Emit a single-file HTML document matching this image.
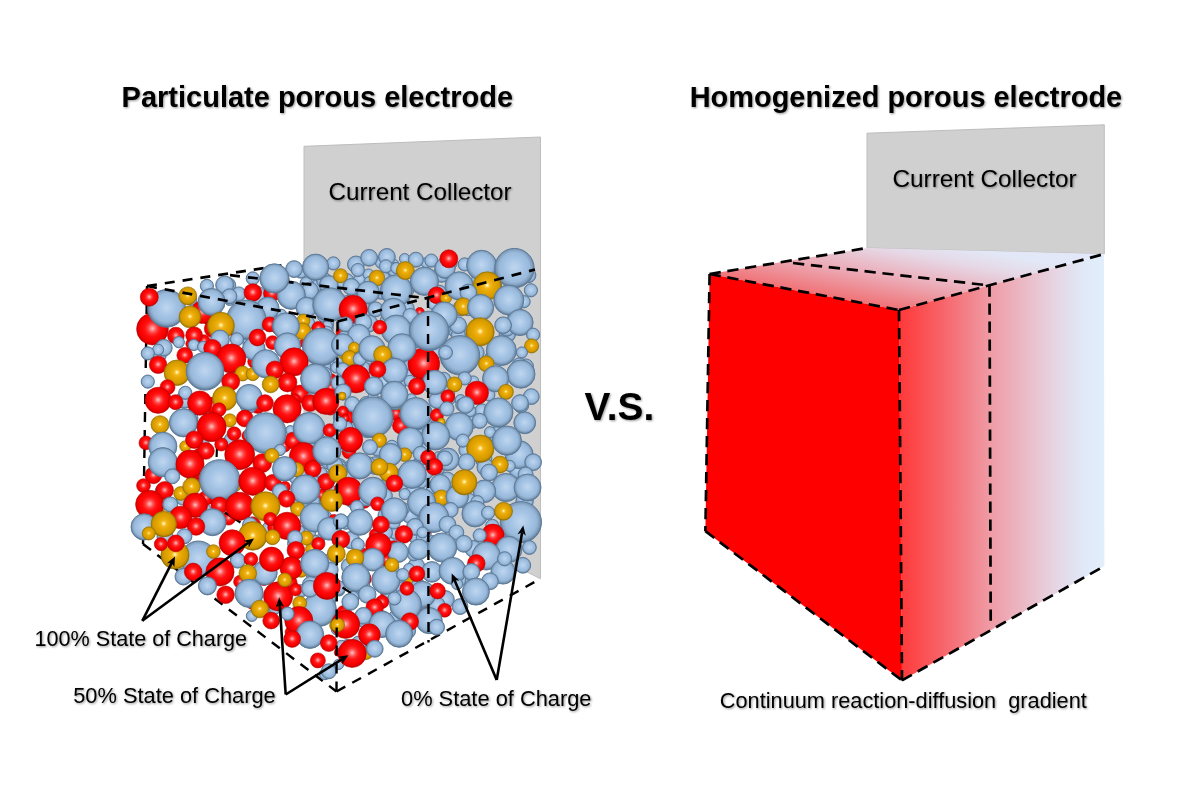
<!DOCTYPE html>
<html lang="en"><head><meta charset="utf-8">
<title>Particulate vs. Homogenized porous electrode</title>
<style>
html,body{margin:0;padding:0;background:#fff;}
body{width:1200px;height:800px;overflow:hidden;}
main,figure{margin:0;padding:0;display:block;width:1200px;height:800px;}
svg{display:block;}
text{font-family:"Liberation Sans",sans-serif;fill:#000;}
.t{font-weight:bold;font-size:28.6px;}
.c{font-size:24px;}
.l{font-size:21.4px;}
.vs{font-weight:bold;font-size:38.5px;}
.d{fill:none;stroke:#000;stroke-width:2.7;stroke-dasharray:11.3 6.7;}
.b{fill:url(#b);stroke:#5d7b9a;stroke-width:1;}
.r{fill:url(#r);stroke:#c20000;stroke-width:.6;}
.g{fill:url(#g);stroke:#9a7400;stroke-width:.7;}
.dl{fill:none;stroke:#000;stroke-width:2.15;stroke-dasharray:10 8;}
.a{fill:none;stroke:#000;stroke-width:2.6;stroke-linecap:butt;}
</style></head>
<body>
<main>
<figure>
<svg role="img" aria-label="Particulate porous electrode versus homogenized porous electrode" width="1200" height="800" viewBox="0 0 1200 800">
<defs>
<radialGradient id="b" cx="50%" cy="48%" r="50%">
<stop offset="0" stop-color="#c0d6ee"/><stop offset=".45" stop-color="#a6c5e6"/><stop offset=".76" stop-color="#99b9da"/><stop offset=".9" stop-color="#829fbe"/><stop offset=".97" stop-color="#6a88a7"/><stop offset="1" stop-color="#5c7a98"/>
</radialGradient>
<radialGradient id="r" cx="50%" cy="48%" r="50%">
<stop offset="0" stop-color="#ffc8c8"/><stop offset=".12" stop-color="#ff8a8a"/><stop offset=".3" stop-color="#ff3c3c"/><stop offset=".5" stop-color="#ff1010"/><stop offset=".8" stop-color="#f80000"/><stop offset=".93" stop-color="#e20000"/><stop offset="1" stop-color="#bc0000"/>
</radialGradient>
<radialGradient id="g" cx="50%" cy="48%" r="50%">
<stop offset="0" stop-color="#ffffff"/><stop offset=".05" stop-color="#fff2b4"/><stop offset=".11" stop-color="#ffd65c"/><stop offset=".24" stop-color="#f0b41a"/><stop offset=".5" stop-color="#e6a600"/><stop offset=".82" stop-color="#d49a00"/><stop offset=".93" stop-color="#bc8a00"/><stop offset="1" stop-color="#946c00"/>
</radialGradient>
<linearGradient id="side" gradientUnits="userSpaceOnUse" x1="899" y1="0" x2="1104" y2="0">
<stop offset="0" stop-color="#ff3838"/><stop offset=".22" stop-color="#f7666c"/><stop offset=".44" stop-color="#ef9aa4"/><stop offset=".62" stop-color="#eabcc8"/><stop offset=".77" stop-color="#e6d6e4"/><stop offset=".9" stop-color="#e0e9f8"/><stop offset="1" stop-color="#e2eefb"/>
</linearGradient>
<linearGradient id="top" gradientUnits="userSpaceOnUse" x1="804" y1="292" x2="817.8" y2="219.3">
<stop offset="0" stop-color="#f07276"/><stop offset=".44" stop-color="#ebb0bc"/><stop offset=".77" stop-color="#e6d8e6"/><stop offset="1" stop-color="#e2e8f7"/>
</linearGradient>
</defs>
<rect width="1200" height="800" fill="#fff"/>

<!-- LEFT: particulate -->
<polygon points="304,146.3 540.5,137 540.5,578.8 304,460" fill="#d0d0d0" stroke="#bdbdbd" stroke-width="1"/>
<g id="backdrop">
<circle class="r" cx="396.0" cy="413.3" r="7.2"/>
<circle class="b" cx="375.4" cy="447.0" r="6.2"/>
<circle class="b" cx="419.1" cy="359.8" r="7.3"/>
<circle class="b" cx="311.0" cy="573.7" r="5.6"/>
<circle class="b" cx="165.1" cy="536.6" r="8.1"/>
<circle class="b" cx="332.5" cy="535.0" r="5.2"/>
<circle class="b" cx="327.8" cy="328.1" r="5.5"/>
<circle class="b" cx="445.8" cy="311.9" r="6.0"/>
<circle class="b" cx="485.5" cy="291.6" r="6.8"/>
<circle class="b" cx="257.2" cy="431.2" r="6.4"/>
<circle class="b" cx="376.8" cy="367.6" r="5.0"/>
<circle class="b" cx="387.8" cy="540.0" r="5.2"/>
<circle class="b" cx="457.2" cy="421.6" r="6.6"/>
<circle class="b" cx="208.2" cy="300.3" r="6.5"/>
<circle class="b" cx="386.4" cy="319.9" r="6.0"/>
<circle class="b" cx="336.3" cy="293.8" r="5.4"/>
<circle class="r" cx="251.9" cy="603.6" r="5.6"/>
<circle class="b" cx="353.4" cy="319.1" r="7.2"/>
<circle class="b" cx="447.2" cy="480.1" r="8.1"/>
<circle class="b" cx="434.9" cy="352.6" r="7.1"/>
<circle class="b" cx="401.4" cy="591.5" r="5.3"/>
<circle class="b" cx="438.8" cy="457.3" r="5.7"/>
<circle class="b" cx="215.5" cy="311.0" r="5.6"/>
<circle class="r" cx="284.9" cy="486.8" r="5.5"/>
<circle class="b" cx="400.1" cy="477.6" r="8.7"/>
<circle class="b" cx="326.4" cy="501.3" r="8.6"/>
<circle class="b" cx="319.4" cy="334.4" r="5.0"/>
<circle class="r" cx="349.6" cy="489.6" r="8.1"/>
<circle class="b" cx="365.7" cy="361.6" r="6.1"/>
<circle class="b" cx="345.5" cy="492.2" r="8.0"/>
<circle class="b" cx="320.7" cy="513.4" r="7.0"/>
<circle class="b" cx="416.7" cy="446.6" r="7.1"/>
<circle class="g" cx="365.4" cy="651.3" r="8.4"/>
<circle class="g" cx="407.7" cy="584.9" r="8.6"/>
<circle class="b" cx="425.7" cy="533.3" r="5.6"/>
<circle class="b" cx="524.1" cy="301.7" r="6.1"/>
<circle class="b" cx="254.1" cy="312.0" r="6.7"/>
<circle class="b" cx="415.0" cy="435.4" r="5.3"/>
<circle class="b" cx="394.3" cy="592.3" r="5.3"/>
<circle class="b" cx="324.7" cy="399.4" r="7.2"/>
<circle class="r" cx="342.5" cy="332.2" r="6.4"/>
<circle class="b" cx="432.2" cy="487.8" r="5.8"/>
<circle class="b" cx="471.3" cy="421.9" r="7.0"/>
<circle class="b" cx="283.8" cy="280.7" r="5.5"/>
<circle class="b" cx="248.4" cy="326.1" r="5.3"/>
<circle class="b" cx="408.2" cy="375.6" r="6.0"/>
<circle class="b" cx="326.9" cy="323.7" r="6.8"/>
<circle class="b" cx="360.6" cy="359.9" r="8.9"/>
<circle class="r" cx="300.0" cy="394.0" r="8.9"/>
<circle class="b" cx="428.8" cy="526.2" r="5.2"/>
<circle class="b" cx="351.6" cy="468.3" r="8.3"/>
<circle class="b" cx="468.2" cy="501.6" r="8.6"/>
<circle class="b" cx="391.7" cy="519.1" r="7.7"/>
<circle class="b" cx="438.1" cy="467.7" r="7.1"/>
<circle class="b" cx="340.2" cy="417.5" r="6.9"/>
<circle class="b" cx="445.3" cy="515.3" r="7.6"/>
<circle class="r" cx="348.9" cy="451.8" r="6.9"/>
<circle class="b" cx="326.7" cy="599.9" r="8.9"/>
<circle class="r" cx="204.6" cy="476.5" r="8.8"/>
<circle class="b" cx="345.9" cy="627.8" r="7.8"/>
<circle class="b" cx="323.5" cy="383.9" r="5.6"/>
<circle class="b" cx="271.7" cy="608.4" r="5.0"/>
<circle class="b" cx="346.7" cy="337.2" r="6.5"/>
<circle class="b" cx="512.2" cy="487.0" r="7.9"/>
<circle class="g" cx="323.6" cy="571.9" r="7.6"/>
<circle class="r" cx="199.0" cy="454.9" r="6.4"/>
<circle class="b" cx="525.9" cy="366.5" r="7.6"/>
<circle class="b" cx="301.8" cy="327.8" r="5.6"/>
<circle class="b" cx="498.8" cy="465.3" r="5.9"/>
<circle class="b" cx="323.2" cy="316.2" r="5.8"/>
<circle class="r" cx="295.1" cy="399.0" r="5.2"/>
<circle class="r" cx="254.3" cy="361.6" r="6.6"/>
<circle class="b" cx="332.2" cy="502.9" r="5.0"/>
<circle class="b" cx="399.2" cy="576.9" r="6.8"/>
<circle class="b" cx="398.5" cy="384.7" r="5.5"/>
<circle class="r" cx="395.0" cy="549.3" r="5.4"/>
<circle class="b" cx="351.9" cy="501.1" r="6.6"/>
<circle class="b" cx="381.4" cy="262.4" r="6.2"/>
<circle class="b" cx="421.3" cy="386.2" r="5.1"/>
<circle class="b" cx="409.7" cy="433.1" r="6.0"/>
<circle class="b" cx="412.8" cy="340.6" r="8.2"/>
<circle class="b" cx="344.4" cy="343.6" r="8.9"/>
<circle class="b" cx="301.4" cy="632.5" r="8.5"/>
<circle class="b" cx="405.8" cy="415.9" r="6.5"/>
<circle class="r" cx="257.7" cy="404.6" r="8.8"/>
<circle class="r" cx="290.2" cy="632.0" r="5.1"/>
<circle class="b" cx="445.2" cy="275.0" r="5.1"/>
<circle class="b" cx="387.5" cy="367.3" r="7.9"/>
<circle class="b" cx="159.3" cy="355.5" r="6.9"/>
<circle class="b" cx="298.8" cy="362.7" r="6.7"/>
<circle class="b" cx="507.3" cy="334.3" r="8.2"/>
<circle class="b" cx="447.5" cy="511.2" r="6.3"/>
<circle class="r" cx="289.3" cy="584.2" r="5.3"/>
<circle class="b" cx="423.3" cy="444.4" r="5.9"/>
<circle class="b" cx="388.8" cy="539.1" r="8.0"/>
<circle class="b" cx="405.8" cy="308.5" r="8.4"/>
<circle class="b" cx="368.3" cy="413.5" r="8.0"/>
<circle class="b" cx="524.6" cy="501.2" r="8.7"/>
<circle class="b" cx="322.9" cy="366.4" r="8.1"/>
<circle class="b" cx="361.8" cy="524.5" r="5.4"/>
<circle class="b" cx="417.7" cy="428.9" r="6.1"/>
<circle class="b" cx="497.1" cy="434.7" r="8.3"/>
<circle class="b" cx="327.4" cy="325.8" r="5.1"/>
<circle class="b" cx="299.3" cy="635.1" r="7.5"/>
<circle class="b" cx="441.6" cy="273.9" r="8.4"/>
<circle class="b" cx="380.8" cy="487.4" r="7.5"/>
<circle class="b" cx="311.7" cy="501.0" r="6.7"/>
<circle class="b" cx="322.0" cy="440.8" r="5.1"/>
<circle class="b" cx="338.5" cy="356.1" r="8.1"/>
<circle class="b" cx="326.4" cy="332.9" r="6.9"/>
<circle class="b" cx="165.7" cy="523.4" r="5.3"/>
<circle class="b" cx="346.9" cy="280.6" r="7.0"/>
<circle class="b" cx="516.1" cy="314.8" r="8.4"/>
<circle class="b" cx="463.8" cy="338.8" r="8.9"/>
<circle class="r" cx="194.3" cy="479.3" r="7.5"/>
<circle class="r" cx="363.7" cy="499.9" r="8.5"/>
<circle class="b" cx="301.8" cy="590.6" r="6.1"/>
<circle class="b" cx="372.3" cy="408.2" r="8.1"/>
<circle class="r" cx="375.6" cy="534.8" r="6.3"/>
<circle class="r" cx="228.6" cy="518.2" r="6.9"/>
<circle class="b" cx="243.8" cy="320.3" r="5.4"/>
<circle class="b" cx="451.1" cy="425.6" r="6.1"/>
<circle class="b" cx="366.5" cy="404.1" r="7.6"/>
<circle class="b" cx="449.9" cy="263.1" r="7.2"/>
<circle class="b" cx="438.6" cy="547.9" r="8.4"/>
<circle class="r" cx="252.1" cy="525.7" r="8.9"/>
<circle class="b" cx="488.9" cy="395.0" r="6.0"/>
<circle class="b" cx="416.7" cy="535.4" r="8.9"/>
<circle class="b" cx="473.3" cy="548.9" r="8.4"/>
<circle class="b" cx="369.6" cy="386.3" r="5.8"/>
<circle class="r" cx="394.0" cy="548.7" r="7.9"/>
<circle class="b" cx="377.3" cy="409.5" r="8.3"/>
<circle class="b" cx="493.1" cy="285.5" r="8.5"/>
<circle class="r" cx="191.2" cy="343.8" r="5.4"/>
<circle class="b" cx="313.1" cy="266.7" r="6.0"/>
<circle class="b" cx="425.6" cy="411.5" r="6.3"/>
<circle class="r" cx="343.9" cy="613.0" r="7.5"/>
<circle class="b" cx="309.0" cy="440.0" r="8.1"/>
<circle class="b" cx="421.3" cy="482.3" r="5.9"/>
<circle class="b" cx="339.2" cy="590.3" r="5.7"/>
<circle class="b" cx="418.4" cy="586.2" r="7.5"/>
<circle class="r" cx="304.5" cy="422.5" r="8.6"/>
<circle class="b" cx="492.1" cy="268.5" r="5.8"/>
<circle class="b" cx="343.0" cy="416.2" r="8.5"/>
<circle class="b" cx="327.4" cy="479.7" r="8.0"/>
<circle class="g" cx="398.8" cy="403.3" r="6.3"/>
<circle class="b" cx="447.8" cy="499.5" r="5.5"/>
<circle class="b" cx="490.8" cy="357.2" r="5.8"/>
<circle class="b" cx="351.0" cy="325.1" r="6.3"/>
<circle class="b" cx="189.1" cy="418.2" r="8.9"/>
<circle class="r" cx="317.4" cy="339.8" r="7.6"/>
<circle class="r" cx="229.5" cy="419.9" r="5.1"/>
<circle class="b" cx="417.0" cy="466.7" r="7.5"/>
<circle class="b" cx="204.6" cy="509.7" r="6.6"/>
<circle class="b" cx="315.6" cy="497.3" r="8.0"/>
<circle class="b" cx="391.9" cy="298.8" r="6.7"/>
<circle class="b" cx="424.6" cy="520.5" r="6.0"/>
<circle class="b" cx="325.2" cy="517.2" r="6.6"/>
<circle class="b" cx="338.6" cy="664.4" r="5.2"/>
<circle class="b" cx="426.2" cy="471.6" r="7.6"/>
<circle class="b" cx="350.8" cy="429.1" r="8.8"/>
<circle class="g" cx="413.5" cy="421.7" r="8.1"/>
<circle class="g" cx="311.9" cy="549.2" r="6.4"/>
<circle class="b" cx="458.6" cy="421.4" r="5.8"/>
<circle class="b" cx="521.1" cy="405.3" r="7.6"/>
<circle class="r" cx="330.2" cy="380.7" r="7.2"/>
<circle class="r" cx="247.6" cy="435.7" r="5.7"/>
<circle class="b" cx="395.4" cy="532.9" r="6.4"/>
<circle class="b" cx="479.0" cy="281.8" r="8.3"/>
<circle class="b" cx="393.8" cy="264.2" r="5.0"/>
<circle class="g" cx="402.5" cy="362.3" r="5.4"/>
<circle class="r" cx="240.0" cy="581.7" r="6.4"/>
<circle class="b" cx="454.8" cy="328.0" r="8.6"/>
<circle class="b" cx="407.4" cy="630.8" r="8.2"/>
<circle class="b" cx="339.8" cy="282.4" r="6.9"/>
<circle class="b" cx="339.2" cy="465.7" r="7.2"/>
<circle class="b" cx="330.2" cy="492.6" r="7.7"/>
<circle class="b" cx="394.9" cy="269.9" r="7.4"/>
<circle class="b" cx="481.8" cy="410.7" r="6.9"/>
<circle class="b" cx="231.1" cy="439.5" r="6.7"/>
<circle class="b" cx="402.0" cy="588.2" r="6.3"/>
<circle class="b" cx="360.0" cy="278.7" r="6.2"/>
<circle class="b" cx="384.3" cy="532.4" r="8.2"/>
<circle class="b" cx="385.5" cy="515.2" r="7.5"/>
<circle class="b" cx="379.6" cy="542.0" r="5.9"/>
<circle class="r" cx="326.3" cy="576.0" r="5.4"/>
<circle class="b" cx="501.9" cy="531.4" r="6.5"/>
<circle class="b" cx="366.4" cy="365.6" r="6.2"/>
<circle class="b" cx="368.5" cy="274.4" r="5.5"/>
<circle class="r" cx="371.5" cy="641.1" r="6.8"/>
<circle class="b" cx="299.0" cy="504.9" r="8.8"/>
<circle class="b" cx="333.0" cy="430.0" r="5.4"/>
<circle class="b" cx="427.0" cy="359.0" r="7.9"/>
<circle class="r" cx="424.7" cy="614.7" r="7.9"/>
<circle class="b" cx="392.0" cy="553.8" r="6.8"/>
<circle class="b" cx="426.1" cy="262.8" r="5.1"/>
<circle class="b" cx="481.5" cy="460.8" r="5.2"/>
<circle class="b" cx="318.9" cy="540.3" r="5.6"/>
<circle class="b" cx="452.1" cy="494.4" r="6.2"/>
<circle class="b" cx="420.8" cy="603.0" r="6.3"/>
<circle class="b" cx="381.4" cy="386.7" r="6.7"/>
<circle class="b" cx="295.0" cy="543.6" r="7.4"/>
<circle class="b" cx="251.3" cy="434.2" r="7.3"/>
<circle class="b" cx="370.2" cy="372.2" r="8.4"/>
<circle class="b" cx="460.5" cy="580.0" r="5.9"/>
<circle class="r" cx="305.0" cy="473.7" r="5.6"/>
<circle class="r" cx="282.8" cy="474.6" r="5.1"/>
<circle class="b" cx="483.4" cy="460.8" r="7.3"/>
<circle class="b" cx="445.4" cy="599.5" r="8.9"/>
<circle class="b" cx="364.6" cy="621.1" r="6.8"/>
<circle class="b" cx="519.3" cy="365.2" r="7.3"/>
<circle class="g" cx="407.8" cy="421.9" r="6.8"/>
<circle class="b" cx="248.5" cy="404.8" r="8.6"/>
<circle class="r" cx="423.2" cy="527.7" r="8.9"/>
<circle class="b" cx="511.7" cy="540.3" r="6.2"/>
<circle class="b" cx="426.1" cy="339.4" r="5.1"/>
<circle class="b" cx="203.8" cy="444.5" r="5.4"/>
<circle class="b" cx="391.9" cy="446.6" r="6.4"/>
<circle class="r" cx="333.9" cy="520.0" r="5.6"/>
<circle class="b" cx="363.0" cy="318.3" r="8.5"/>
<circle class="b" cx="308.5" cy="322.9" r="6.1"/>
<circle class="r" cx="278.8" cy="328.0" r="7.0"/>
<circle class="b" cx="407.3" cy="346.1" r="6.9"/>
<circle class="b" cx="249.3" cy="342.1" r="6.5"/>
<circle class="b" cx="429.7" cy="380.4" r="8.9"/>
<circle class="b" cx="460.7" cy="400.2" r="5.6"/>
<circle class="b" cx="352.7" cy="335.5" r="6.7"/>
<circle class="r" cx="234.0" cy="496.2" r="5.6"/>
<circle class="r" cx="424.0" cy="340.0" r="5.3"/>
<circle class="b" cx="384.3" cy="464.6" r="6.1"/>
<circle class="b" cx="385.8" cy="553.1" r="8.2"/>
<circle class="b" cx="227.9" cy="285.4" r="7.9"/>
<circle class="b" cx="470.2" cy="411.1" r="5.7"/>
<circle class="b" cx="321.6" cy="473.0" r="5.5"/>
<circle class="b" cx="340.5" cy="472.1" r="7.1"/>
<circle class="r" cx="236.1" cy="334.1" r="5.4"/>
<circle class="b" cx="380.8" cy="498.4" r="7.1"/>
<circle class="b" cx="426.1" cy="276.8" r="5.5"/>
<circle class="b" cx="342.8" cy="374.6" r="5.5"/>
<circle class="b" cx="437.4" cy="326.5" r="8.3"/>
<circle class="b" cx="299.7" cy="433.3" r="8.4"/>
<circle class="b" cx="449.1" cy="399.2" r="6.0"/>
<circle class="b" cx="312.5" cy="521.8" r="6.5"/>
<circle class="b" cx="510.7" cy="522.0" r="8.2"/>
<circle class="b" cx="358.8" cy="643.5" r="7.5"/>
<circle class="b" cx="350.3" cy="438.8" r="8.8"/>
<circle class="b" cx="267.6" cy="528.0" r="5.5"/>
<circle class="b" cx="347.8" cy="369.9" r="6.9"/>
<circle class="b" cx="261.0" cy="359.5" r="5.4"/>
<circle class="b" cx="384.8" cy="495.8" r="7.6"/>
<circle class="b" cx="423.5" cy="450.2" r="7.2"/>
<circle class="r" cx="330.6" cy="387.5" r="6.0"/>
<circle class="r" cx="347.3" cy="417.8" r="7.3"/>
<circle class="r" cx="263.8" cy="580.0" r="5.6"/>
<circle class="b" cx="319.4" cy="283.9" r="6.6"/>
<circle class="b" cx="433.1" cy="303.6" r="5.9"/>
<circle class="b" cx="434.4" cy="322.4" r="6.3"/>
<circle class="b" cx="410.0" cy="515.0" r="8.4"/>
<circle class="b" cx="349.3" cy="566.1" r="8.0"/>
<circle class="b" cx="333.0" cy="585.3" r="7.8"/>
<circle class="b" cx="375.5" cy="465.6" r="8.9"/>
<circle class="b" cx="310.9" cy="584.8" r="8.5"/>
<circle class="b" cx="300.4" cy="489.6" r="6.5"/>
<circle class="b" cx="342.3" cy="443.2" r="5.7"/>
<circle class="r" cx="205.8" cy="498.0" r="7.3"/>
<circle class="r" cx="314.2" cy="637.7" r="5.0"/>
<circle class="b" cx="367.5" cy="465.4" r="8.7"/>
<circle class="b" cx="349.2" cy="473.7" r="7.7"/>
<circle class="b" cx="352.2" cy="299.3" r="6.5"/>
<circle class="b" cx="366.1" cy="497.4" r="8.5"/>
<circle class="b" cx="337.4" cy="441.5" r="7.5"/>
<circle class="b" cx="347.3" cy="304.1" r="8.6"/>
<circle class="b" cx="344.4" cy="336.4" r="5.7"/>
<circle class="b" cx="382.2" cy="405.3" r="9.0"/>
<circle class="b" cx="363.0" cy="368.9" r="7.6"/>
<circle class="b" cx="308.3" cy="308.7" r="5.6"/>
<circle class="b" cx="191.1" cy="299.7" r="5.7"/>
<circle class="r" cx="386.0" cy="594.4" r="5.2"/>
<circle class="b" cx="446.7" cy="392.6" r="7.9"/>
<circle class="r" cx="284.3" cy="445.6" r="6.5"/>
<circle class="r" cx="319.3" cy="516.6" r="6.0"/>
<circle class="r" cx="336.5" cy="588.6" r="6.0"/>
<circle class="r" cx="211.3" cy="405.2" r="7.9"/>
<circle class="g" cx="344.4" cy="352.8" r="6.8"/>
<circle class="b" cx="422.0" cy="366.7" r="8.6"/>
<circle class="r" cx="291.7" cy="360.7" r="7.4"/>
<circle class="r" cx="197.3" cy="471.9" r="7.2"/>
<circle class="b" cx="298.2" cy="532.2" r="7.3"/>
<circle class="b" cx="300.1" cy="293.9" r="5.7"/>
<circle class="b" cx="342.6" cy="381.8" r="5.3"/>
<circle class="b" cx="425.9" cy="364.2" r="6.7"/>
<circle class="b" cx="471.2" cy="581.8" r="6.1"/>
<circle class="b" cx="383.8" cy="277.7" r="6.0"/>
<circle class="b" cx="417.5" cy="422.1" r="8.0"/>
<circle class="b" cx="258.2" cy="295.5" r="8.8"/>
<circle class="b" cx="416.3" cy="566.0" r="8.3"/>
<circle class="b" cx="324.3" cy="280.6" r="7.8"/>
<circle class="b" cx="347.1" cy="645.0" r="5.5"/>
<circle class="b" cx="460.2" cy="366.9" r="7.2"/>
<circle class="b" cx="359.4" cy="362.1" r="5.2"/>
<circle class="r" cx="308.5" cy="342.0" r="6.2"/>
<circle class="b" cx="422.2" cy="537.5" r="6.0"/>
<circle class="b" cx="348.4" cy="443.6" r="8.7"/>
<circle class="b" cx="442.8" cy="328.6" r="7.7"/>
<circle class="r" cx="327.6" cy="577.5" r="8.3"/>
<circle class="r" cx="330.4" cy="409.4" r="5.7"/>
<circle class="b" cx="438.9" cy="293.0" r="7.9"/>
<circle class="b" cx="367.0" cy="303.4" r="7.0"/>
<circle class="g" cx="401.3" cy="362.8" r="6.0"/>
<circle class="b" cx="473.2" cy="381.6" r="5.7"/>
<circle class="b" cx="506.8" cy="328.2" r="8.1"/>
<circle class="b" cx="362.2" cy="412.0" r="8.3"/>
<circle class="b" cx="340.3" cy="466.3" r="5.6"/>
<circle class="b" cx="373.7" cy="291.5" r="7.8"/>
<circle class="r" cx="319.2" cy="337.6" r="7.9"/>
<circle class="b" cx="312.2" cy="399.2" r="6.8"/>
<circle class="b" cx="225.2" cy="293.5" r="6.3"/>
<circle class="b" cx="388.6" cy="596.2" r="5.2"/>
<circle class="b" cx="384.5" cy="381.9" r="7.3"/>
<circle class="b" cx="335.1" cy="527.9" r="6.2"/>
<circle class="r" cx="354.0" cy="493.5" r="6.6"/>
<circle class="b" cx="361.0" cy="304.8" r="8.4"/>
<circle class="r" cx="180.9" cy="428.1" r="5.3"/>
<circle class="r" cx="362.0" cy="556.0" r="8.0"/>
<circle class="b" cx="300.9" cy="329.4" r="8.8"/>
<circle class="b" cx="448.4" cy="315.0" r="8.1"/>
<circle class="b" cx="437.0" cy="400.4" r="8.1"/>
<circle class="b" cx="467.9" cy="309.2" r="6.5"/>
<circle class="b" cx="427.9" cy="276.1" r="7.4"/>
<circle class="b" cx="361.3" cy="592.9" r="5.5"/>
<circle class="b" cx="410.0" cy="364.2" r="5.8"/>
<circle class="b" cx="458.3" cy="335.3" r="7.2"/>
<circle class="g" cx="411.6" cy="421.7" r="6.9"/>
<circle class="b" cx="373.0" cy="397.2" r="5.1"/>
<circle class="b" cx="163.1" cy="491.8" r="8.1"/>
<circle class="b" cx="393.7" cy="522.6" r="6.5"/>
<circle class="b" cx="511.4" cy="542.1" r="6.2"/>
<circle class="b" cx="345.9" cy="522.9" r="6.4"/>
<circle class="b" cx="306.3" cy="283.2" r="6.3"/>
<circle class="r" cx="321.5" cy="495.2" r="6.2"/>
<circle class="r" cx="218.8" cy="500.1" r="8.9"/>
<circle class="b" cx="314.9" cy="620.1" r="5.3"/>
<circle class="b" cx="382.1" cy="618.3" r="7.6"/>
<circle class="b" cx="381.4" cy="291.1" r="8.2"/>
<circle class="b" cx="281.3" cy="315.0" r="5.8"/>
<circle class="b" cx="411.4" cy="398.9" r="5.2"/>
<circle class="r" cx="386.4" cy="560.0" r="6.3"/>
<circle class="r" cx="210.1" cy="317.5" r="8.1"/>
<circle class="b" cx="312.9" cy="482.6" r="7.4"/>
<circle class="b" cx="403.1" cy="508.9" r="6.3"/>
<circle class="b" cx="324.5" cy="374.0" r="7.1"/>
<circle class="b" cx="333.2" cy="531.3" r="8.1"/>
<circle class="b" cx="441.3" cy="295.5" r="5.1"/>
<circle class="r" cx="173.2" cy="467.3" r="7.2"/>
<circle class="b" cx="290.8" cy="320.3" r="5.7"/>
<circle class="b" cx="449.6" cy="359.2" r="8.9"/>
<circle class="b" cx="394.9" cy="401.5" r="8.2"/>
<circle class="b" cx="367.2" cy="428.9" r="8.7"/>
<circle class="b" cx="391.4" cy="351.4" r="6.0"/>
<circle class="b" cx="317.0" cy="354.5" r="5.8"/>
<circle class="b" cx="397.4" cy="382.5" r="9.0"/>
<circle class="b" cx="369.3" cy="323.4" r="8.5"/>
<circle class="b" cx="336.9" cy="629.5" r="5.6"/>
<circle class="b" cx="380.1" cy="446.9" r="7.3"/>
<circle class="r" cx="288.7" cy="583.2" r="8.5"/>
<circle class="r" cx="159.4" cy="304.5" r="8.9"/>
<circle class="b" cx="184.7" cy="399.6" r="8.7"/>
<circle class="b" cx="527.2" cy="271.7" r="5.9"/>
<circle class="b" cx="413.9" cy="319.7" r="8.0"/>
<circle class="b" cx="345.9" cy="428.2" r="7.2"/>
<circle class="b" cx="401.4" cy="484.8" r="7.2"/>
<circle class="b" cx="426.3" cy="424.5" r="6.3"/>
<circle class="r" cx="274.9" cy="527.5" r="7.2"/>
<circle class="b" cx="392.4" cy="568.0" r="6.5"/>
<circle class="b" cx="301.5" cy="477.5" r="7.5"/>
<circle class="b" cx="332.2" cy="558.9" r="7.1"/>
<circle class="b" cx="353.1" cy="597.2" r="6.0"/>
<circle class="b" cx="466.4" cy="449.9" r="7.6"/>
<circle class="b" cx="484.1" cy="276.0" r="6.5"/>
<circle class="b" cx="323.0" cy="457.5" r="8.2"/>
<circle class="b" cx="369.7" cy="282.1" r="5.7"/>
<circle class="b" cx="394.9" cy="616.2" r="5.8"/>
<circle class="b" cx="462.2" cy="404.9" r="6.5"/>
<circle class="b" cx="424.1" cy="413.3" r="7.7"/>
<circle class="b" cx="296.1" cy="477.3" r="7.0"/>
<circle class="g" cx="159.9" cy="505.2" r="6.9"/>
<circle class="b" cx="309.7" cy="455.5" r="8.6"/>
<circle class="b" cx="339.1" cy="471.4" r="8.3"/>
<circle class="b" cx="435.1" cy="425.5" r="5.2"/>
<circle class="r" cx="363.2" cy="578.8" r="8.1"/>
<circle class="b" cx="440.0" cy="493.4" r="5.2"/>
<circle class="b" cx="423.8" cy="459.3" r="5.2"/>
<circle class="b" cx="310.9" cy="501.5" r="9.0"/>
<circle class="b" cx="328.7" cy="461.9" r="7.3"/>
<circle class="b" cx="255.3" cy="590.0" r="6.2"/>
<circle class="b" cx="378.0" cy="447.6" r="8.7"/>
<circle class="b" cx="482.1" cy="288.0" r="7.4"/>
<circle class="b" cx="366.0" cy="591.9" r="7.0"/>
<circle class="b" cx="409.9" cy="381.0" r="5.8"/>
<circle class="b" cx="229.7" cy="300.1" r="5.4"/>
<circle class="b" cx="309.7" cy="532.8" r="6.0"/>
<circle class="b" cx="414.1" cy="322.6" r="5.2"/>
<circle class="b" cx="274.9" cy="608.8" r="5.6"/>
<circle class="b" cx="300.7" cy="271.7" r="6.5"/>
<circle class="g" cx="236.0" cy="485.6" r="5.4"/>
<circle class="b" cx="315.5" cy="541.1" r="5.5"/>
<circle class="b" cx="352.6" cy="379.2" r="6.4"/>
<circle class="b" cx="341.2" cy="645.7" r="5.4"/>
<circle class="b" cx="475.5" cy="352.7" r="8.7"/>
<circle class="b" cx="362.4" cy="586.6" r="7.4"/>
<circle class="b" cx="372.5" cy="405.1" r="6.5"/>
<circle class="r" cx="213.1" cy="328.8" r="8.8"/>
<circle class="b" cx="486.3" cy="458.3" r="5.6"/>
<circle class="r" cx="305.4" cy="342.8" r="5.5"/>
<circle class="b" cx="485.5" cy="467.2" r="8.6"/>
<circle class="b" cx="338.0" cy="587.9" r="7.3"/>
<circle class="b" cx="301.4" cy="474.1" r="6.2"/>
<circle class="b" cx="182.5" cy="499.2" r="5.9"/>
<circle class="b" cx="423.7" cy="283.9" r="6.0"/>
<circle class="b" cx="528.4" cy="275.2" r="7.5"/>
<circle class="b" cx="432.5" cy="541.1" r="5.6"/>
<circle class="r" cx="204.0" cy="340.6" r="5.9"/>
<circle class="b" cx="334.7" cy="465.4" r="8.1"/>
<circle class="b" cx="439.3" cy="523.4" r="5.8"/>
<circle class="b" cx="409.0" cy="568.9" r="5.5"/>
<circle class="b" cx="436.8" cy="605.1" r="8.2"/>
<circle class="b" cx="317.6" cy="602.1" r="8.1"/>
<circle class="b" cx="354.7" cy="652.5" r="5.5"/>
<circle class="b" cx="326.3" cy="356.7" r="7.0"/>
<circle class="b" cx="413.9" cy="554.2" r="6.6"/>
<circle class="b" cx="311.2" cy="510.2" r="6.8"/>
<circle class="b" cx="460.7" cy="308.3" r="7.7"/>
<circle class="b" cx="518.0" cy="469.3" r="9.0"/>
<circle class="r" cx="212.5" cy="477.8" r="5.0"/>
<circle class="b" cx="325.0" cy="595.5" r="6.0"/>
<circle class="b" cx="406.5" cy="289.7" r="7.5"/>
<circle class="b" cx="351.0" cy="540.1" r="8.6"/>
<circle class="b" cx="413.2" cy="490.4" r="6.8"/>
<circle class="g" cx="301.0" cy="569.7" r="7.6"/>
<circle class="b" cx="443.5" cy="379.4" r="7.2"/>
</g>
<g class="dl">
<path d="M147,286 L284,265" stroke-width="2.7"/>
<path d="M147,286 L143,544" stroke-width="2.4"/>
<path d="M143,544 L336.5,691.5" stroke-width="2.45"/>
<path d="M336.5,691.5 L541,578.5" stroke-width="2.45"/>
<path d="M217,446 L216.6,457 M225,512.5 L240.5,522.5 M342.5,587.5 L351,593" stroke-dasharray="none"/>
</g>
<g id="spheres">
<circle class="b" cx="206.9" cy="285.9" r="6.6"/>
<circle class="b" cx="224.7" cy="285.0" r="9.0"/>
<circle class="b" cx="238.8" cy="294.0" r="7.1"/>
<circle class="b" cx="229.4" cy="296.3" r="7.5"/>
<circle class="b" cx="252.8" cy="278.4" r="6.6"/>
<circle class="b" cx="333.4" cy="263.4" r="6.6"/>
<circle class="b" cx="294.1" cy="269.1" r="8.4"/>
<circle class="b" cx="315.6" cy="267.2" r="13.1"/>
<circle class="b" cx="310.0" cy="290.6" r="8.4"/>
<circle class="b" cx="328.8" cy="285.0" r="9.4"/>
<circle class="r" cx="271.9" cy="293.4" r="8.4"/>
<circle class="b" cx="291.3" cy="295.3" r="14.1"/>
<circle class="b" cx="306.3" cy="307.5" r="10.3"/>
<circle class="b" cx="329.7" cy="304.7" r="16.9"/>
<circle class="r" cx="252.8" cy="292.5" r="8.8"/>
<circle class="b" cx="267.8" cy="308.4" r="11.3"/>
<circle class="b" cx="246.3" cy="319.7" r="19.7"/>
<circle class="r" cx="152.5" cy="329.1" r="15.9"/>
<circle class="b" cx="166.6" cy="308.4" r="18.8"/>
<circle class="r" cx="202.2" cy="312.2" r="11.3"/>
<circle class="g" cx="187.8" cy="295.9" r="9.0"/>
<circle class="b" cx="211.6" cy="301.9" r="13.5"/>
<circle class="g" cx="190.0" cy="316.9" r="10.9"/>
<circle class="g" cx="220.9" cy="325.7" r="13.5"/>
<circle class="r" cx="175.9" cy="335.6" r="8.4"/>
<circle class="r" cx="194.1" cy="335.3" r="8.4"/>
<circle class="b" cx="163.8" cy="347.8" r="8.4"/>
<circle class="b" cx="158.1" cy="349.7" r="5.6"/>
<circle class="b" cx="147.8" cy="353.4" r="6.6"/>
<circle class="b" cx="193.8" cy="345.0" r="5.6"/>
<circle class="b" cx="203.1" cy="346.9" r="5.6"/>
<circle class="b" cx="178.8" cy="342.2" r="5.6"/>
<circle class="b" cx="220.0" cy="339.4" r="9.4"/>
<circle class="b" cx="236.9" cy="339.4" r="6.6"/>
<circle class="r" cx="212.5" cy="348.2" r="8.8"/>
<circle class="r" cx="184.8" cy="355.3" r="7.9"/>
<circle class="r" cx="158.1" cy="364.7" r="8.8"/>
<circle class="b" cx="253.8" cy="348.8" r="11.3"/>
<circle class="r" cx="257.5" cy="337.5" r="8.4"/>
<circle class="r" cx="231.3" cy="358.5" r="14.6"/>
<circle class="g" cx="176.9" cy="372.8" r="12.8"/>
<circle class="b" cx="205.0" cy="371.3" r="18.8"/>
<circle class="b" cx="147.8" cy="381.6" r="6.6"/>
<circle class="r" cx="167.5" cy="387.2" r="7.5"/>
<circle class="g" cx="242.5" cy="373.5" r="7.5"/>
<circle class="g" cx="252.8" cy="374.1" r="6.6"/>
<circle class="r" cx="230.7" cy="381.6" r="9.0"/>
<circle class="r" cx="269.7" cy="324.4" r="7.5"/>
<circle class="g" cx="303.4" cy="320.6" r="6.6"/>
<circle class="g" cx="302.5" cy="331.3" r="8.4"/>
<circle class="r" cx="318.4" cy="328.1" r="6.6"/>
<circle class="b" cx="286.0" cy="326.3" r="13.5"/>
<circle class="r" cx="272.5" cy="342.6" r="6.9"/>
<circle class="b" cx="287.5" cy="345.9" r="13.1"/>
<circle class="b" cx="321.3" cy="346.9" r="18.8"/>
<circle class="r" cx="294.1" cy="361.9" r="14.1"/>
<circle class="b" cx="265.9" cy="363.8" r="14.1"/>
<circle class="r" cx="274.8" cy="369.8" r="8.8"/>
<circle class="r" cx="287.5" cy="382.5" r="9.4"/>
<circle class="b" cx="315.6" cy="378.8" r="15.0"/>
<circle class="g" cx="270.6" cy="384.4" r="8.4"/>
<circle class="b" cx="336.3" cy="367.5" r="5.6"/>
<circle class="b" cx="355.9" cy="264.4" r="8.4"/>
<circle class="b" cx="357.8" cy="270.0" r="6.6"/>
<circle class="b" cx="369.1" cy="257.8" r="8.4"/>
<circle class="b" cx="386.9" cy="256.9" r="8.4"/>
<circle class="b" cx="385.9" cy="266.3" r="6.6"/>
<circle class="b" cx="404.7" cy="258.8" r="5.3"/>
<circle class="b" cx="415.9" cy="259.7" r="7.5"/>
<circle class="b" cx="431.3" cy="260.6" r="6.6"/>
<circle class="b" cx="396.3" cy="268.1" r="5.6"/>
<circle class="b" cx="445.0" cy="268.1" r="10.3"/>
<circle class="r" cx="448.8" cy="258.8" r="9.0"/>
<circle class="b" cx="464.7" cy="264.4" r="6.6"/>
<circle class="b" cx="481.6" cy="265.3" r="15.0"/>
<circle class="b" cx="514.4" cy="268.1" r="19.7"/>
<circle class="b" cx="530.9" cy="290.3" r="6.6"/>
<circle class="g" cx="340.6" cy="275.8" r="7.1"/>
<circle class="g" cx="376.9" cy="278.1" r="7.9"/>
<circle class="b" cx="351.3" cy="286.9" r="8.4"/>
<circle class="b" cx="368.1" cy="292.5" r="11.3"/>
<circle class="b" cx="396.3" cy="290.6" r="15.9"/>
<circle class="g" cx="405.3" cy="270.6" r="9.0"/>
<circle class="b" cx="424.4" cy="281.3" r="14.1"/>
<circle class="r" cx="436.6" cy="295.3" r="8.4"/>
<circle class="g" cx="445.9" cy="298.1" r="5.6"/>
<circle class="b" cx="459.1" cy="285.9" r="14.1"/>
<circle class="g" cx="487.2" cy="285.9" r="14.1"/>
<circle class="b" cx="468.4" cy="292.5" r="8.4"/>
<circle class="g" cx="463.2" cy="306.6" r="8.8"/>
<circle class="b" cx="480.6" cy="307.5" r="13.1"/>
<circle class="b" cx="508.8" cy="300.0" r="15.0"/>
<circle class="b" cx="520.0" cy="322.5" r="13.1"/>
<circle class="b" cx="503.1" cy="325.3" r="8.4"/>
<circle class="b" cx="533.1" cy="334.7" r="6.6"/>
<circle class="g" cx="531.6" cy="345.9" r="7.1"/>
<circle class="b" cx="521.9" cy="352.5" r="5.6"/>
<circle class="b" cx="501.3" cy="350.6" r="15.0"/>
<circle class="g" cx="480.1" cy="331.9" r="14.1"/>
<circle class="b" cx="458.1" cy="325.3" r="8.4"/>
<circle class="b" cx="444.1" cy="315.0" r="13.1"/>
<circle class="r" cx="419.7" cy="312.2" r="4.7"/>
<circle class="b" cx="375.6" cy="309.4" r="7.5"/>
<circle class="b" cx="393.4" cy="311.3" r="13.1"/>
<circle class="b" cx="410.3" cy="315.9" r="7.5"/>
<circle class="r" cx="353.1" cy="309.4" r="14.1"/>
<circle class="b" cx="345.6" cy="324.4" r="7.5"/>
<circle class="b" cx="363.4" cy="322.5" r="8.4"/>
<circle class="b" cx="396.3" cy="330.0" r="15.0"/>
<circle class="r" cx="379.8" cy="327.2" r="6.9"/>
<circle class="r" cx="423.8" cy="363.8" r="15.9"/>
<circle class="b" cx="429.1" cy="330.9" r="19.7"/>
<circle class="b" cx="358.8" cy="335.6" r="11.3"/>
<circle class="b" cx="342.8" cy="345.0" r="11.3"/>
<circle class="g" cx="354.1" cy="347.8" r="5.6"/>
<circle class="g" cx="349.4" cy="358.1" r="7.5"/>
<circle class="b" cx="359.7" cy="359.1" r="6.6"/>
<circle class="b" cx="401.9" cy="347.8" r="14.1"/>
<circle class="b" cx="371.9" cy="348.8" r="13.1"/>
<circle class="g" cx="382.6" cy="354.8" r="9.0"/>
<circle class="b" cx="460.0" cy="355.3" r="19.7"/>
<circle class="b" cx="445.6" cy="352.5" r="6.9"/>
<circle class="g" cx="486.3" cy="363.8" r="7.9"/>
<circle class="b" cx="520.9" cy="374.1" r="14.1"/>
<circle class="b" cx="495.6" cy="378.8" r="13.1"/>
<circle class="b" cx="464.7" cy="378.4" r="6.6"/>
<circle class="g" cx="454.4" cy="384.4" r="7.5"/>
<circle class="b" cx="434.7" cy="382.5" r="12.2"/>
<circle class="r" cx="416.9" cy="386.3" r="8.4"/>
<circle class="b" cx="342.8" cy="369.4" r="6.6"/>
<circle class="r" cx="355.9" cy="378.8" r="14.1"/>
<circle class="b" cx="394.4" cy="371.3" r="13.1"/>
<circle class="r" cx="377.5" cy="369.4" r="8.4"/>
<circle class="b" cx="373.8" cy="386.3" r="9.4"/>
<circle class="b" cx="185.3" cy="392.8" r="6.6"/>
<circle class="r" cx="158.1" cy="400.3" r="13.1"/>
<circle class="r" cx="175.6" cy="402.2" r="7.5"/>
<circle class="g" cx="224.7" cy="398.4" r="12.2"/>
<circle class="r" cx="199.8" cy="403.1" r="12.2"/>
<circle class="b" cx="249.1" cy="397.5" r="13.1"/>
<circle class="r" cx="265.0" cy="403.1" r="8.4"/>
<circle class="r" cx="287.1" cy="408.8" r="14.1"/>
<circle class="r" cx="310.0" cy="403.1" r="8.4"/>
<circle class="r" cx="325.9" cy="401.3" r="13.1"/>
<circle class="g" cx="160.0" cy="424.7" r="9.0"/>
<circle class="b" cx="183.4" cy="422.8" r="14.1"/>
<circle class="r" cx="219.1" cy="409.7" r="6.9"/>
<circle class="g" cx="229.9" cy="420.4" r="6.6"/>
<circle class="r" cx="211.6" cy="427.1" r="14.6"/>
<circle class="r" cx="244.8" cy="418.5" r="8.4"/>
<circle class="r" cx="234.1" cy="433.7" r="6.9"/>
<circle class="b" cx="290.3" cy="430.3" r="4.7"/>
<circle class="r" cx="293.1" cy="440.6" r="8.4"/>
<circle class="b" cx="265.9" cy="433.1" r="20.3"/>
<circle class="b" cx="309.1" cy="428.4" r="15.9"/>
<circle class="r" cx="329.7" cy="430.3" r="6.6"/>
<circle class="r" cx="145.9" cy="442.9" r="6.9"/>
<circle class="b" cx="162.8" cy="446.3" r="14.1"/>
<circle class="r" cx="153.4" cy="475.3" r="8.4"/>
<circle class="b" cx="162.8" cy="462.2" r="14.6"/>
<circle class="g" cx="185.3" cy="446.3" r="5.6"/>
<circle class="r" cx="194.3" cy="439.7" r="8.8"/>
<circle class="r" cx="205.9" cy="450.9" r="8.4"/>
<circle class="r" cx="221.3" cy="444.4" r="6.6"/>
<circle class="b" cx="280.0" cy="450.0" r="5.6"/>
<circle class="r" cx="262.2" cy="463.1" r="9.4"/>
<circle class="r" cx="239.7" cy="454.7" r="15.0"/>
<circle class="g" cx="271.9" cy="455.6" r="7.1"/>
<circle class="r" cx="303.4" cy="456.6" r="14.1"/>
<circle class="r" cx="190.0" cy="464.1" r="14.1"/>
<circle class="b" cx="172.2" cy="476.3" r="7.5"/>
<circle class="r" cx="143.5" cy="485.6" r="6.9"/>
<circle class="b" cx="219.6" cy="480.0" r="20.3"/>
<circle class="r" cx="252.8" cy="481.3" r="14.1"/>
<circle class="r" cx="272.9" cy="482.8" r="8.4"/>
<circle class="g" cx="296.9" cy="469.7" r="7.1"/>
<circle class="r" cx="312.8" cy="468.8" r="8.4"/>
<circle class="b" cx="284.7" cy="468.8" r="12.2"/>
<circle class="r" cx="325.9" cy="481.9" r="8.4"/>
<circle class="g" cx="337.8" cy="473.4" r="9.0"/>
<circle class="b" cx="280.0" cy="491.3" r="7.5"/>
<circle class="b" cx="305.3" cy="489.4" r="14.6"/>
<circle class="r" cx="164.7" cy="490.3" r="8.8"/>
<circle class="g" cx="180.6" cy="493.5" r="6.9"/>
<circle class="g" cx="191.5" cy="486.6" r="8.8"/>
<circle class="r" cx="149.7" cy="504.4" r="14.1"/>
<circle class="b" cx="170.3" cy="504.4" r="7.5"/>
<circle class="r" cx="195.3" cy="505.3" r="12.2"/>
<circle class="r" cx="219.4" cy="505.3" r="8.4"/>
<circle class="r" cx="239.7" cy="506.3" r="14.1"/>
<circle class="r" cx="286.6" cy="498.8" r="8.4"/>
<circle class="g" cx="265.4" cy="506.3" r="14.6"/>
<circle class="g" cx="297.8" cy="509.1" r="7.1"/>
<circle class="b" cx="314.7" cy="517.5" r="14.6"/>
<circle class="r" cx="270.3" cy="519.0" r="6.6"/>
<circle class="r" cx="287.1" cy="525.9" r="13.7"/>
<circle class="b" cx="144.1" cy="526.9" r="13.1"/>
<circle class="r" cx="180.6" cy="517.5" r="11.3"/>
<circle class="g" cx="163.8" cy="524.1" r="12.8"/>
<circle class="b" cx="212.5" cy="522.2" r="13.5"/>
<circle class="r" cx="196.0" cy="526.5" r="8.8"/>
<circle class="g" cx="148.8" cy="533.4" r="6.6"/>
<circle class="b" cx="250.0" cy="525.0" r="7.5"/>
<circle class="g" cx="252.8" cy="535.9" r="14.3"/>
<circle class="b" cx="184.4" cy="536.3" r="7.5"/>
<circle class="g" cx="272.5" cy="537.2" r="7.5"/>
<circle class="g" cx="306.3" cy="538.1" r="7.1"/>
<circle class="b" cx="328.8" cy="528.8" r="11.3"/>
<circle class="b" cx="295.0" cy="538.1" r="7.5"/>
<circle class="b" cx="337.9" cy="383.1" r="6.9"/>
<circle class="b" cx="343.0" cy="392.1" r="8.1"/>
<circle class="g" cx="342.1" cy="396.0" r="3.9"/>
<circle class="b" cx="352.2" cy="404.1" r="7.5"/>
<circle class="r" cx="342.8" cy="411.6" r="5.6"/>
<circle class="r" cx="345.6" cy="418.1" r="3.8"/>
<circle class="b" cx="394.4" cy="394.7" r="13.5"/>
<circle class="r" cx="447.8" cy="396.6" r="6.9"/>
<circle class="r" cx="476.9" cy="392.8" r="11.6"/>
<circle class="g" cx="505.9" cy="391.9" r="7.5"/>
<circle class="b" cx="531.3" cy="396.6" r="7.9"/>
<circle class="r" cx="400.9" cy="425.6" r="8.4"/>
<circle class="b" cx="372.8" cy="417.2" r="20.3"/>
<circle class="b" cx="415.9" cy="413.4" r="15.9"/>
<circle class="r" cx="436.9" cy="415.3" r="6.6"/>
<circle class="b" cx="446.9" cy="408.8" r="7.1"/>
<circle class="b" cx="465.6" cy="405.0" r="8.4"/>
<circle class="b" cx="498.4" cy="412.5" r="14.6"/>
<circle class="b" cx="520.0" cy="403.1" r="8.4"/>
<circle class="b" cx="524.7" cy="422.8" r="10.9"/>
<circle class="b" cx="479.7" cy="420.9" r="7.5"/>
<circle class="b" cx="490.0" cy="432.2" r="5.6"/>
<circle class="b" cx="459.1" cy="426.6" r="14.1"/>
<circle class="b" cx="462.8" cy="440.6" r="6.6"/>
<circle class="g" cx="441.3" cy="421.9" r="3.8"/>
<circle class="b" cx="435.6" cy="435.9" r="14.1"/>
<circle class="b" cx="410.3" cy="440.6" r="13.1"/>
<circle class="g" cx="379.4" cy="440.3" r="7.1"/>
<circle class="r" cx="350.3" cy="439.7" r="12.4"/>
<circle class="b" cx="326.9" cy="450.9" r="14.1"/>
<circle class="b" cx="340.0" cy="423.9" r="6.8"/>
<circle class="b" cx="370.0" cy="447.2" r="7.5"/>
<circle class="g" cx="404.7" cy="454.7" r="6.9"/>
<circle class="b" cx="390.6" cy="454.7" r="11.3"/>
<circle class="b" cx="420.6" cy="453.8" r="7.5"/>
<circle class="g" cx="480.3" cy="448.7" r="13.7"/>
<circle class="b" cx="519.1" cy="454.7" r="14.1"/>
<circle class="b" cx="506.9" cy="440.6" r="14.6"/>
<circle class="b" cx="533.1" cy="462.2" r="8.4"/>
<circle class="b" cx="509.7" cy="465.9" r="5.6"/>
<circle class="g" cx="499.9" cy="464.6" r="8.4"/>
<circle class="b" cx="466.6" cy="462.2" r="8.4"/>
<circle class="b" cx="447.8" cy="459.4" r="11.3"/>
<circle class="b" cx="445.0" cy="458.4" r="7.5"/>
<circle class="r" cx="428.1" cy="457.5" r="7.5"/>
<circle class="r" cx="434.3" cy="466.9" r="8.4"/>
<circle class="g" cx="388.8" cy="472.5" r="9.4"/>
<circle class="b" cx="359.7" cy="465.9" r="13.1"/>
<circle class="g" cx="379.4" cy="466.9" r="8.4"/>
<circle class="b" cx="412.2" cy="474.4" r="14.1"/>
<circle class="r" cx="394.4" cy="483.4" r="8.4"/>
<circle class="b" cx="440.3" cy="484.7" r="10.3"/>
<circle class="b" cx="489.1" cy="472.5" r="8.4"/>
<circle class="b" cx="525.6" cy="474.4" r="7.5"/>
<circle class="b" cx="505.9" cy="487.5" r="14.1"/>
<circle class="b" cx="527.5" cy="487.5" r="13.5"/>
<circle class="b" cx="484.4" cy="491.3" r="11.3"/>
<circle class="r" cx="348.4" cy="491.3" r="14.1"/>
<circle class="g" cx="331.6" cy="500.6" r="10.9"/>
<circle class="b" cx="372.8" cy="491.3" r="14.1"/>
<circle class="g" cx="441.3" cy="497.8" r="7.9"/>
<circle class="b" cx="457.2" cy="496.9" r="11.3"/>
<circle class="g" cx="464.3" cy="482.3" r="12.6"/>
<circle class="b" cx="404.7" cy="494.1" r="5.6"/>
<circle class="b" cx="421.6" cy="502.5" r="14.1"/>
<circle class="r" cx="377.5" cy="503.8" r="6.9"/>
<circle class="b" cx="477.4" cy="502.1" r="6.6"/>
<circle class="b" cx="475.0" cy="513.8" r="13.1"/>
<circle class="b" cx="488.1" cy="512.8" r="6.6"/>
<circle class="b" cx="520.9" cy="522.2" r="20.6"/>
<circle class="g" cx="503.5" cy="511.3" r="9.0"/>
<circle class="b" cx="492.3" cy="525.9" r="6.6"/>
<circle class="b" cx="394.4" cy="510.9" r="13.1"/>
<circle class="b" cx="356.9" cy="507.2" r="6.6"/>
<circle class="b" cx="359.7" cy="522.2" r="13.1"/>
<circle class="b" cx="340.9" cy="521.3" r="7.5"/>
<circle class="r" cx="380.9" cy="524.6" r="8.4"/>
<circle class="b" cx="450.6" cy="510.0" r="7.5"/>
<circle class="b" cx="433.8" cy="517.5" r="15.0"/>
<circle class="b" cx="447.4" cy="524.4" r="8.4"/>
<circle class="b" cx="415.0" cy="526.9" r="8.4"/>
<circle class="r" cx="403.8" cy="534.4" r="8.8"/>
<circle class="r" cx="340.8" cy="539.4" r="9.0"/>
<circle class="r" cx="492.8" cy="535.3" r="11.3"/>
<circle class="b" cx="479.7" cy="535.3" r="6.6"/>
<circle class="b" cx="456.3" cy="532.5" r="7.5"/>
<circle class="b" cx="422.5" cy="532.5" r="5.6"/>
<circle class="b" cx="198.4" cy="558.8" r="17.8"/>
<circle class="g" cx="175.0" cy="555.0" r="14.1"/>
<circle class="r" cx="160.9" cy="544.1" r="6.6"/>
<circle class="r" cx="175.9" cy="543.4" r="8.4"/>
<circle class="g" cx="213.4" cy="551.6" r="6.9"/>
<circle class="r" cx="232.2" cy="542.8" r="13.1"/>
<circle class="r" cx="295.9" cy="550.3" r="8.8"/>
<circle class="r" cx="318.4" cy="543.8" r="6.6"/>
<circle class="g" cx="336.3" cy="553.7" r="9.0"/>
<circle class="b" cx="183.4" cy="576.6" r="8.4"/>
<circle class="r" cx="193.2" cy="571.9" r="8.8"/>
<circle class="b" cx="237.8" cy="560.6" r="7.5"/>
<circle class="r" cx="220.0" cy="571.9" r="14.1"/>
<circle class="r" cx="250.9" cy="559.3" r="6.9"/>
<circle class="b" cx="207.4" cy="585.9" r="9.0"/>
<circle class="r" cx="225.6" cy="594.8" r="8.8"/>
<circle class="b" cx="265.0" cy="572.8" r="12.2"/>
<circle class="g" cx="247.8" cy="573.4" r="8.8"/>
<circle class="r" cx="291.3" cy="568.1" r="11.3"/>
<circle class="r" cx="271.6" cy="559.3" r="12.2"/>
<circle class="b" cx="330.6" cy="570.0" r="7.5"/>
<circle class="b" cx="314.7" cy="563.4" r="14.1"/>
<circle class="b" cx="249.1" cy="593.4" r="14.1"/>
<circle class="b" cx="319.4" cy="609.4" r="16.9"/>
<circle class="r" cx="278.1" cy="596.3" r="14.6"/>
<circle class="g" cx="284.7" cy="579.9" r="6.9"/>
<circle class="r" cx="295.6" cy="589.7" r="6.2"/>
<circle class="b" cx="310.0" cy="588.8" r="8.4"/>
<circle class="r" cx="326.9" cy="585.9" r="13.5"/>
<circle class="g" cx="299.7" cy="603.2" r="6.9"/>
<circle class="b" cx="251.9" cy="615.9" r="5.6"/>
<circle class="g" cx="259.8" cy="609.0" r="8.8"/>
<circle class="r" cx="271.2" cy="620.6" r="8.4"/>
<circle class="r" cx="298.8" cy="620.6" r="14.1"/>
<circle class="b" cx="287.5" cy="613.7" r="6.6"/>
<circle class="b" cx="310.0" cy="634.7" r="13.7"/>
<circle class="r" cx="292.2" cy="639.0" r="8.4"/>
<circle class="r" cx="328.8" cy="643.1" r="8.4"/>
<circle class="g" cx="336.3" cy="625.3" r="6.6"/>
<circle class="r" cx="317.9" cy="660.4" r="7.5"/>
<circle class="b" cx="325.0" cy="674.1" r="5.6"/>
<circle class="b" cx="328.8" cy="671.3" r="7.5"/>
<circle class="r" cx="338.1" cy="652.5" r="3.8"/>
<circle class="b" cx="357.8" cy="544.7" r="6.6"/>
<circle class="b" cx="398.1" cy="552.2" r="10.3"/>
<circle class="b" cx="418.8" cy="549.4" r="10.3"/>
<circle class="b" cx="463.8" cy="543.8" r="8.4"/>
<circle class="b" cx="529.4" cy="547.5" r="6.9"/>
<circle class="b" cx="508.8" cy="549.4" r="13.1"/>
<circle class="b" cx="486.3" cy="555.9" r="14.1"/>
<circle class="r" cx="378.4" cy="545.6" r="12.8"/>
<circle class="b" cx="442.2" cy="547.5" r="14.6"/>
<circle class="b" cx="372.8" cy="559.7" r="11.3"/>
<circle class="g" cx="355.0" cy="557.8" r="8.8"/>
<circle class="b" cx="355.9" cy="577.5" r="14.1"/>
<circle class="b" cx="385.9" cy="580.3" r="14.1"/>
<circle class="g" cx="391.9" cy="564.8" r="6.9"/>
<circle class="b" cx="402.8" cy="574.7" r="6.2"/>
<circle class="b" cx="431.9" cy="571.9" r="10.3"/>
<circle class="r" cx="416.9" cy="573.8" r="7.9"/>
<circle class="r" cx="476.3" cy="563.4" r="8.8"/>
<circle class="b" cx="452.5" cy="570.9" r="13.5"/>
<circle class="b" cx="471.3" cy="571.9" r="8.4"/>
<circle class="b" cx="503.1" cy="571.9" r="12.2"/>
<circle class="b" cx="504.6" cy="558.8" r="7.1"/>
<circle class="b" cx="522.8" cy="565.3" r="7.9"/>
<circle class="b" cx="490.0" cy="581.3" r="8.4"/>
<circle class="b" cx="457.2" cy="584.1" r="5.6"/>
<circle class="b" cx="475.9" cy="591.6" r="13.5"/>
<circle class="b" cx="422.5" cy="594.4" r="13.1"/>
<circle class="r" cx="437.5" cy="591.0" r="7.9"/>
<circle class="b" cx="367.2" cy="594.4" r="8.8"/>
<circle class="b" cx="350.3" cy="601.9" r="8.4"/>
<circle class="b" cx="405.6" cy="604.7" r="15.9"/>
<circle class="r" cx="406.9" cy="588.4" r="6.9"/>
<circle class="b" cx="394.4" cy="598.5" r="6.6"/>
<circle class="r" cx="382.2" cy="601.9" r="6.6"/>
<circle class="r" cx="374.7" cy="607.5" r="8.8"/>
<circle class="r" cx="444.6" cy="610.3" r="6.9"/>
<circle class="b" cx="460.0" cy="606.6" r="7.9"/>
<circle class="b" cx="363.4" cy="615.9" r="8.4"/>
<circle class="b" cx="429.1" cy="620.6" r="13.1"/>
<circle class="r" cx="409.8" cy="621.6" r="8.8"/>
<circle class="b" cx="436.6" cy="627.2" r="7.9"/>
<circle class="b" cx="382.2" cy="624.4" r="13.1"/>
<circle class="r" cx="345.6" cy="624.4" r="14.1"/>
<circle class="g" cx="337.6" cy="624.9" r="6.9"/>
<circle class="r" cx="369.4" cy="634.7" r="10.9"/>
<circle class="b" cx="399.1" cy="633.8" r="13.5"/>
<circle class="b" cx="374.7" cy="648.8" r="8.4"/>
<circle class="r" cx="352.2" cy="653.4" r="14.1"/>
</g>
<g class="dl">
<path d="M147,286 L337.5,321.5" stroke-width="2.7"/>
<path d="M230,275.2 L428,298.3" stroke-width="2.7"/>
<path d="M337.5,321.5 L535,269.5" stroke-width="2.7"/>
<path d="M337.5,321.5 L336.5,691.5" stroke-width="2.4"/>
<path d="M428,298 L428.5,642.5" stroke-width="2.4"/>
</g>
<g id="spheres-top">
<circle class="b" cx="274.4" cy="278.4" r="14.6"/>
<circle class="r" cx="149.3" cy="297.2" r="9.0"/>
</g>

<!-- RIGHT: homogenized -->
<polygon points="867,133.2 1104.3,124.8 1104.3,254 867,248" fill="#d0d0d0" stroke="#bdbdbd" stroke-width="1"/>
<polygon points="709.6,274 867,248 1104,254 899,310" fill="url(#top)"/>
<polygon points="899,310 1104,254 1104.4,566 902,680.4" fill="url(#side)"/>
<polygon points="709.6,274 899,310 902,680.4 705.4,531.2" fill="#ff0000"/>
<g class="d">
<path d="M709.6,274 L867,248"/>
<path d="M709.6,274 L899,310"/>
<path d="M793,263 L989.5,285.5"/>
<path d="M899,310 L1104,254"/>
<path d="M709.6,274 L705.4,531.2"/>
<path d="M705.4,531.2 L902,680.4"/>
<path d="M899,310 L902,680.4"/>
<path d="M989.5,285.5 L990.7,621"/>
<path d="M902,680.4 L1104.4,566"/>
</g>

<!-- arrows -->
<g fill="#000"><path class="a" d="M142.3,620.8 L171.7,562.9"/><polygon points="175.0,556.5 174.4,567.0 171.7,562.9 166.9,563.2"/><path class="a" d="M142.3,620.8 L248.2,542.8"/><polygon points="254.0,538.5 248.8,547.6 248.2,542.8 243.8,540.8"/><path class="a" d="M285.7,694.5 L279.7,604.7"/><polygon points="279.2,597.5 284.0,606.8 279.7,604.7 275.7,607.4"/><path class="a" d="M285.7,694.5 L342.2,659.1"/><polygon points="348.3,655.3 342.4,664.0 342.2,659.1 337.9,656.8"/><path class="a" d="M496.7,680.0 L454.5,580.1"/><polygon points="451.7,573.5 459.3,580.7 454.5,580.1 451.6,584.0"/><path class="a" d="M496.7,680.0 L522.1,532.6"/><polygon points="523.3,525.5 525.8,535.7 522.1,532.6 517.5,534.2"/></g>

<!-- text -->
<g style="filter:drop-shadow(1.1px 1.3px 0.8px rgba(0,0,0,.42))">
<text class="t" x="121.6" y="107" textLength="391.5" lengthAdjust="spacingAndGlyphs">Particulate porous electrode</text>
<text class="t" x="689.7" y="107" textLength="432.5" lengthAdjust="spacingAndGlyphs">Homogenized porous electrode</text>
<text class="c" x="328.6" y="199.5" textLength="183" lengthAdjust="spacingAndGlyphs">Current Collector</text>
<text class="c" x="892.4" y="187" textLength="184.2" lengthAdjust="spacingAndGlyphs">Current Collector</text>
<text class="vs" x="584.6" y="419.6" textLength="69.6" lengthAdjust="spacingAndGlyphs">V.S.</text>
<text class="l" x="34.6" y="646.3" textLength="212.5" lengthAdjust="spacingAndGlyphs">100% State of Charge</text>
<text class="l" x="73.2" y="702.5" textLength="202.5" lengthAdjust="spacingAndGlyphs">50% State of Charge</text>
<text class="l" x="401" y="706.3" textLength="190.5" lengthAdjust="spacingAndGlyphs">0% State of Charge</text>
<text class="l" x="719.8" y="708" textLength="367" lengthAdjust="spacingAndGlyphs" xml:space="preserve">Continuum reaction-diffusion  gradient</text>
</g>
</svg>
</figure>
</main>
</body></html>
